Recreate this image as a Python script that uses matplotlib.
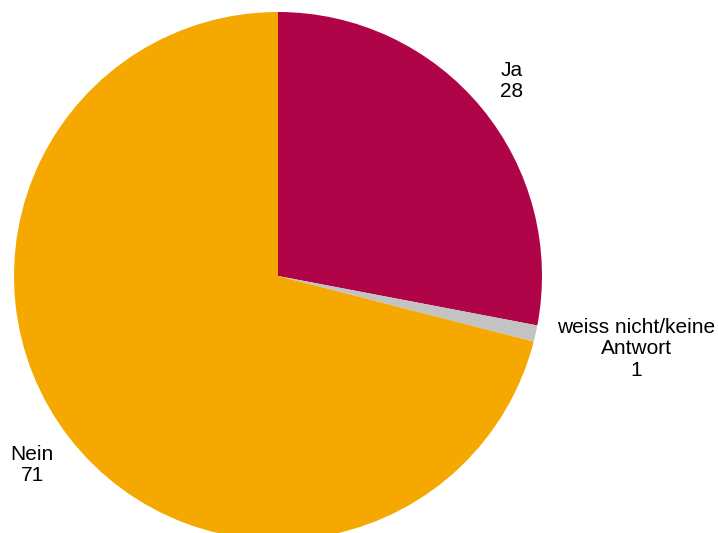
import matplotlib
matplotlib.use("Agg")
import matplotlib.pyplot as plt

# ---------- data ----------
labels = ["Ja", "weiss nicht/keine\nAntwort", "Nein"]
values = [28, 1, 71]
colors = ["#AF0448", "#C3C3C3", "#F5A800"]

# label anchor positions in pixel coordinates (x, y from top)
label_pos = [(512, 81), (636, 349), (32, 465)]

W, H = 718, 533
fig = plt.figure(figsize=(W / 100, H / 100), dpi=100)
ax = fig.add_axes([0, 0, 1, 1])

# pie centre and radius in pixels (y measured from bottom)
ax.pie(values, colors=colors, startangle=90, counterclock=False,
       center=(278, H - 276), radius=264, frame=True,
       wedgeprops={"linewidth": 0})

for lab, val, (x, y) in zip(labels, values, label_pos):
    ax.text(x, H - y, f"{lab}\n{val}", ha="center", va="center",
            fontsize=15, family="Liberation Sans", linespacing=1.18)

ax.set_xlim(0, W)
ax.set_ylim(0, H)
ax.set_aspect("equal")
ax.axis("off")

fig.savefig("out.png", dpi=100)
